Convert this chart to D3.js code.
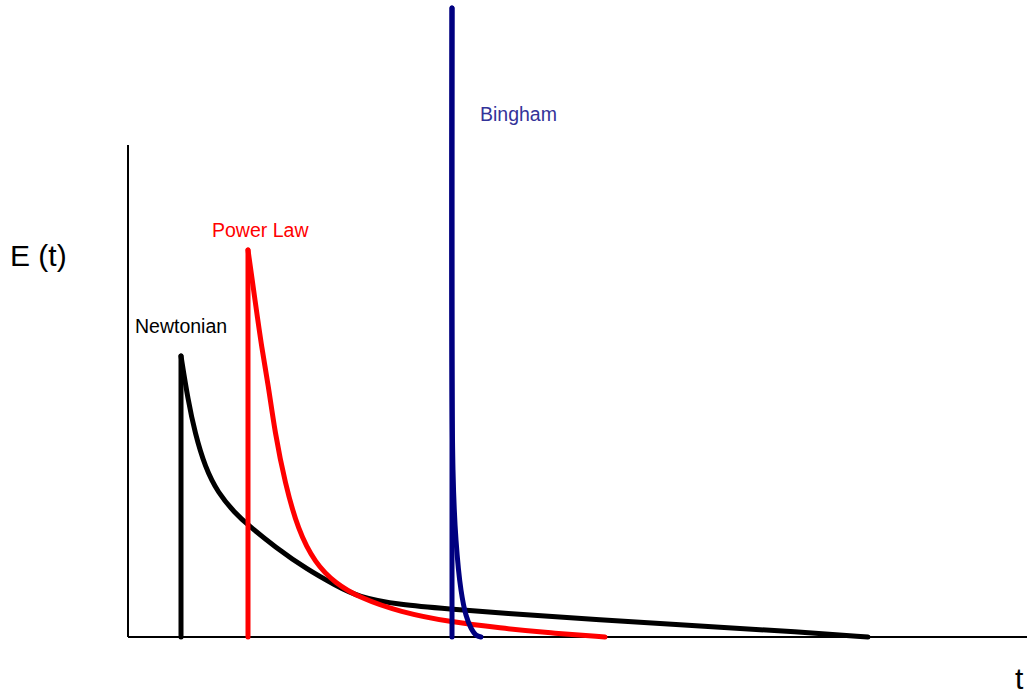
<!DOCTYPE html>
<html><head><meta charset="utf-8">
<script src="https://cdn.jsdelivr.net/npm/d3@7"></script>
<style>body{margin:0;background:#fff}svg{display:block}text{font-family:"Liberation Sans",Arial,sans-serif}</style>
</head><body>
<script>
// Data (t in arbitrary units, E in arbitrary units)
const newtonianT = [0, 0, 7, 14, 24, 37, 54, 67, 94, 127, 154, 177, 219, 269, 319, 419, 519, 619, 687];
const newtonianE = [0, 281, 237, 204, 170, 144, 124, 112, 90, 67, 52, 40, 32, 28, 24, 17, 11, 5, 0];
const powerT = [67, 67, 74, 81, 87, 94, 104, 117, 134, 154, 179, 219, 269, 319, 369, 424];
const powerE = [0, 387, 337, 287, 254, 204, 154, 107, 74, 54, 39, 25, 15, 9, 4, 0];
const binghamT = [271, 271, 272, 275, 280, 285, 290, 295, 300];
const binghamE = [0, 629, 167, 97, 47, 22, 9, 2, 0];
const series = [
  {name: "Newtonian", t: newtonianT, e: newtonianE, color: "#000000", labelColor: "#000000", labelT: -46, labelE: 304},
  {name: "Power Law", t: powerT, e: powerE, color: "#ff0000", labelColor: "#ff0000", labelT: 31, labelE: 400},
  {name: "Bingham", t: binghamT, e: binghamE, color: "#000080", labelColor: "#333399", labelT: 299, labelE: 516}
];

const W = 1027, H = 695;
const svg = d3.select("body").append("svg").attr("width", W).attr("height", H);
const x = d3.scaleLinear().domain([0, 846]).range([181, 1027]);
const y = d3.scaleLinear().domain([0, 630]).range([637, 7]);
const xAxisStart = -53, yAxisTop = 492;

// axes
svg.append("line").attr("x1", x(xAxisStart)).attr("x2", x(846)).attr("y1", y(0)).attr("y2", y(0))
  .attr("stroke", "#000").attr("stroke-width", 2);
svg.append("line").attr("x1", x(xAxisStart)).attr("x2", x(xAxisStart)).attr("y1", y(0)).attr("y2", y(yAxisTop))
  .attr("stroke", "#000").attr("stroke-width", 2);

const line = d3.line().x(d => x(d[0])).y(d => y(d[1]));
const smooth = d3.line().x(d => x(d[0])).y(d => y(d[1])).curve(d3.curveBasis);
const cr = d3.line().x(d => x(d[0])).y(d => y(d[1])).curve(d3.curveCatmullRom);

series.forEach(s => {
  const pts = s.t.map((t, i) => [t, s.e[i]]);
  // vertical step
  svg.append("path").attr("d", line(pts.slice(0, 2))).attr("fill", "none")
    .attr("stroke", s.color).attr("stroke-width", 5).attr("stroke-linecap", "round");
  // decay
  const gen = s.name === "Bingham" ? cr : smooth;
  svg.append("path").attr("d", gen(pts.slice(1)))
    .attr("fill", "none").attr("stroke", s.color).attr("stroke-width", 5)
    .attr("stroke-linecap", "round").attr("stroke-linejoin", "round");
  svg.append("text").attr("x", x(s.labelT)).attr("y", y(s.labelE)).attr("font-size", 19.5)
    .attr("fill", s.labelColor).text(s.name);
});

svg.append("text").attr("x", 10).attr("y", 266).attr("font-size", 30).text("E (t)");
svg.append("text").attr("x", 1015).attr("y", 689).attr("font-size", 30).text("t");
</script>
</body></html>
